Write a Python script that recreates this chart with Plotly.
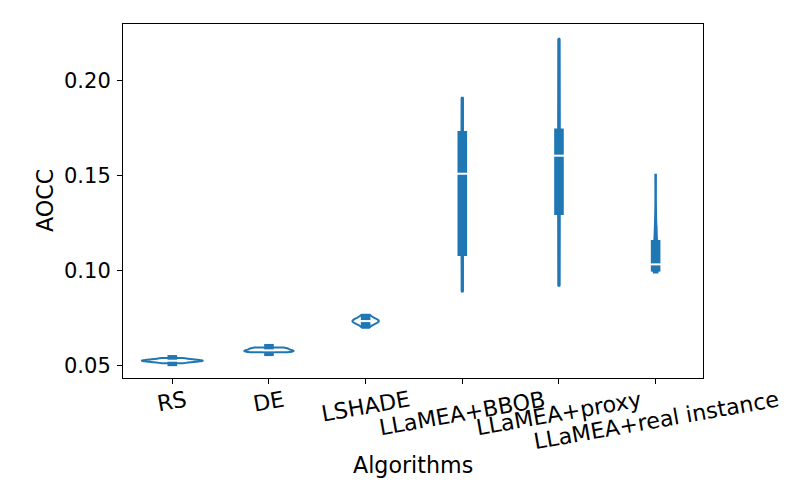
import numpy as np
import plotly.graph_objects as go

algorithms = ['RS', 'DE', 'LSHADE', 'LLaMEA+BBOB', 'LLaMEA+proxy', 'LLaMEA+real instance']

# AOCC per run
rs_aocc = [0.0513, 0.0518, 0.0522, 0.0524, 0.0525, 0.0527, 0.0529, 0.0531, 0.0535, 0.0540]
de_aocc = [0.0570, 0.0572, 0.0575, 0.0577, 0.0579, 0.0582, 0.0586, 0.0590, 0.0593, 0.0595]
lshade_aocc = [0.0700, 0.0716, 0.0725, 0.0730, 0.0733, 0.0736, 0.0739, 0.0745, 0.0755, 0.0768]
bbob_aocc = [0.089, 0.098, 0.108, 0.117, 0.146, 0.156, 0.165, 0.173, 0.182, 0.191]
proxy_aocc = [0.092, 0.120, 0.131, 0.134, 0.155, 0.166, 0.170, 0.173, 0.194, 0.222]
real_aocc = [0.0990, 0.1005, 0.1018, 0.1026, 0.1030, 0.1036, 0.1095, 0.1150, 0.1240, 0.1505]

aocc_runs = [rs_aocc, de_aocc, lshade_aocc, bbob_aocc, proxy_aocc, real_aocc]

y_ticks = [0.05, 0.10, 0.15, 0.20]

BLUE = '#1f77b4'
FONT = 'DejaVu Sans'
FS = 21
FS_LABEL = 22.2
y_range = [0.0435, 0.2298]
plot_h = 354

fig = go.Figure()

for name, vals in zip(algorithms, aocc_runs):
    vals = np.array(vals)
    bw = vals.std(ddof=1) * len(vals) ** (-1 / 5)  # scott, like seaborn
    fig.add_trace(go.Violin(
        x=[name] * len(vals), y=vals, name=name,
        line=dict(color=BLUE, width=2), fillcolor='rgba(0,0,0,0)',
        points=False, box_visible=False, meanline_visible=False,
        spanmode='hard', bandwidth=bw,
        scalegroup='all', scalemode='width',
        showlegend=False, hoverinfo='skip'
    ))

# inner box like seaborn: whisker line, thick IQR bar, white median dash
pad = 4.8 * (y_range[1] - y_range[0]) / plot_h
for name, vals in zip(algorithms, aocc_runs):
    vals = np.array(vals)
    q1, med, q3 = np.percentile(vals, [25, 50, 75])
    iqr = q3 - q1
    lo = vals[vals >= q1 - 1.5 * iqr].min()
    hi = vals[vals <= q3 + 1.5 * iqr].max()
    fig.add_trace(go.Scatter(x=[name, name], y=[lo, hi], mode='lines',
                             line=dict(color=BLUE, width=3.2),
                             showlegend=False, hoverinfo='skip'))
    fig.add_trace(go.Scatter(x=[name, name], y=[q1 - pad, q3 + pad], mode='lines',
                             line=dict(color=BLUE, width=9.6),
                             showlegend=False, hoverinfo='skip'))
    fig.add_trace(go.Scatter(x=[name], y=[med], mode='markers',
                             marker=dict(symbol='line-ew', size=8,
                                         line=dict(color='white', width=2)),
                             showlegend=False, hoverinfo='skip'))

# rotated tick labels, centred under the ticks
for name in algorithms:
    fig.add_annotation(x=name, y=0, xref='x', yref='paper', text=name,
                       showarrow=False, textangle=-10, xanchor='center',
                       yanchor='top', yshift=-5,
                       font=dict(family=FONT, size=FS_LABEL, color='black'))

fig.add_annotation(x=0.5, y=0, xref='paper', yref='paper', text='Algorithms',
                   showarrow=False, yanchor='middle', yshift=-87,
                   font=dict(family=FONT, size=FS_LABEL, color='black'))
fig.add_annotation(x=0, y=0.5, xref='paper', yref='paper', text='AOCC',
                   showarrow=False, textangle=-90, xanchor='center', xshift=-78,
                   font=dict(family=FONT, size=FS_LABEL, color='black'))

# margins offset by the 8px body margin of the html page
fig.update_layout(
    width=800, height=500,
    margin=dict(l=115, r=105, t=16, b=130),
    plot_bgcolor='white', paper_bgcolor='white',
    violinmode='overlay', violingap=0.1,
    font=dict(family=FONT, size=FS, color='black'),
    showlegend=False,
)
fig.update_xaxes(
    type='category', categoryorder='array', categoryarray=algorithms,
    range=[-0.51, 5.49], showticklabels=False,
    showline=True, mirror=True, linecolor='black', linewidth=1.1,
    ticks='outside', ticklen=5, tickwidth=1.1, tickcolor='black',
    showgrid=False, zeroline=False,
)
fig.update_yaxes(
    range=y_range, tickvals=y_ticks, tickformat='.2f',
    showline=True, mirror=True, linecolor='black', linewidth=1.1,
    ticks='outside', ticklen=5, tickwidth=1.1, tickcolor='black',
    showgrid=False, zeroline=False, ticklabelstandoff=2,
    tickfont=dict(family=FONT, size=FS, color='black'),
)

fig.write_html('out.html')
